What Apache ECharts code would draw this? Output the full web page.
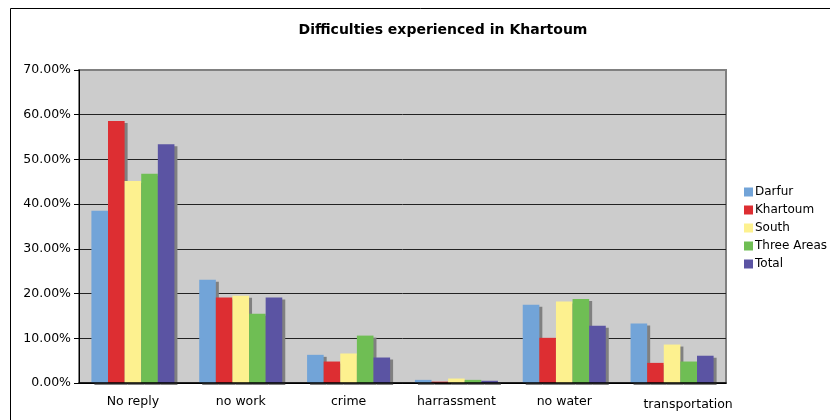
<!DOCTYPE html>
<html>
<head>
<meta charset="utf-8">
<script src="https://cdn.jsdelivr.net/npm/echarts@6/dist/echarts.min.js"></script>
<style>
  html, body { margin: 0; padding: 0; background: #fff; }
  #chart { width: 830px; height: 420px; }
</style>
</head>
<body>
<div id="chart"></div>
<script>
var categories = ["No reply", "no work", "crime", "harrassment", "no water", "transportation"];
var darfur = [38.5, 23.1, 6.3, 0.7, 17.5, 13.3];
var khartoum = [58.6, 19.1, 4.8, 0.3, 10.1, 4.5];
var south = [45.2, 19.5, 6.6, 1.0, 18.2, 8.6];
var threeAreas = [46.8, 15.5, 10.6, 0.7, 18.8, 4.8];
var total = [53.4, 19.1, 5.7, 0.5, 12.8, 6.1];
var seriesNames = ["Darfur", "Khartoum", "South", "Three Areas", "Total"];
var seriesColors = ["#72a4d8", "#dd2e32", "#fdf18f", "#6fbe54", "#5b54a3"];

var chart = echarts.init(document.getElementById("chart"));
var font = "DejaVu Sans, Verdana, sans-serif";

function makeBar(name, data, color) {
  return {
    name: name,
    type: "bar",
    data: data,
    barGap: "0%",
    barCategoryGap: "23%",
    itemStyle: {
      color: color,
      shadowColor: "#808080",
      shadowOffsetX: 3,
      shadowOffsetY: 2,
      shadowBlur: 0
    }
  };
}

var allData = [darfur, khartoum, south, threeAreas, total];

var option = {
  animation: false,
  backgroundColor: "#ffffff",
  title: {
    text: "Difficulties experienced in Khartoum",
    left: 438,
    top: 18,
    textAlign: "center",
    textStyle: { fontFamily: font, fontSize: 14, fontWeight: "bold", color: "#000" }
  },
  graphic: [{
    type: "rect",
    shape: { x: 10.5, y: 8.5, width: 840, height: 440 },
    style: { fill: null, stroke: "#000", lineWidth: 1 },
    silent: true
  }],
  legend: {
    orient: "vertical",
    left: 739,
    top: 181,
    itemWidth: 9,
    itemHeight: 9,
    itemGap: 6,
    icon: "rect",
    data: seriesNames,
    textStyle: { fontFamily: font, fontSize: 12, color: "#000", padding: [0, 0, 0, -3] }
  },
  grid: {
    left: 79,
    top: 70,
    right: 104,
    bottom: 37,
    show: true,
    backgroundColor: "#cccccc",
    borderColor: "#808080",
    borderWidth: 2
  },
  xAxis: {
    type: "category",
    data: categories,
    z: 5,
    axisLine: { lineStyle: { color: "#000", width: 1.5 } },
    axisTick: { length: 5, lineStyle: { color: "#000" } },
    axisLabel: {
      interval: 0,
      fontFamily: font,
      fontSize: 12.5,
      color: "#000",
      margin: 12,
      formatter: function (v) {
        return v === "transportation" ? "{t|" + v + "}" : v;
      },
      rich: { t: { fontFamily: font, fontSize: 12.5, color: "#000", padding: [3, 0, 0, 32] } }
    }
  },
  yAxis: {
    type: "value",
    min: 0,
    max: 70,
    interval: 10,
    axisLine: { show: true, lineStyle: { color: "#000" } },
    axisTick: { show: true, length: 5, lineStyle: { color: "#000" } },
    axisLabel: {
      fontFamily: font,
      fontSize: 12.5,
      color: "#000",
      margin: 8,
      formatter: function (v) { return v.toFixed(2) + "%"; }
    },
    splitLine: {
      lineStyle: {
        color: ["#000", "#222", "#222", "#222", "#222", "#222", "#222", "#808080"],
        width: 1
      }
    }
  },
  series: seriesNames.map(function (n, i) { return makeBar(n, allData[i], seriesColors[i]); })
};

chart.setOption(option);
</script>
</body>
</html>
